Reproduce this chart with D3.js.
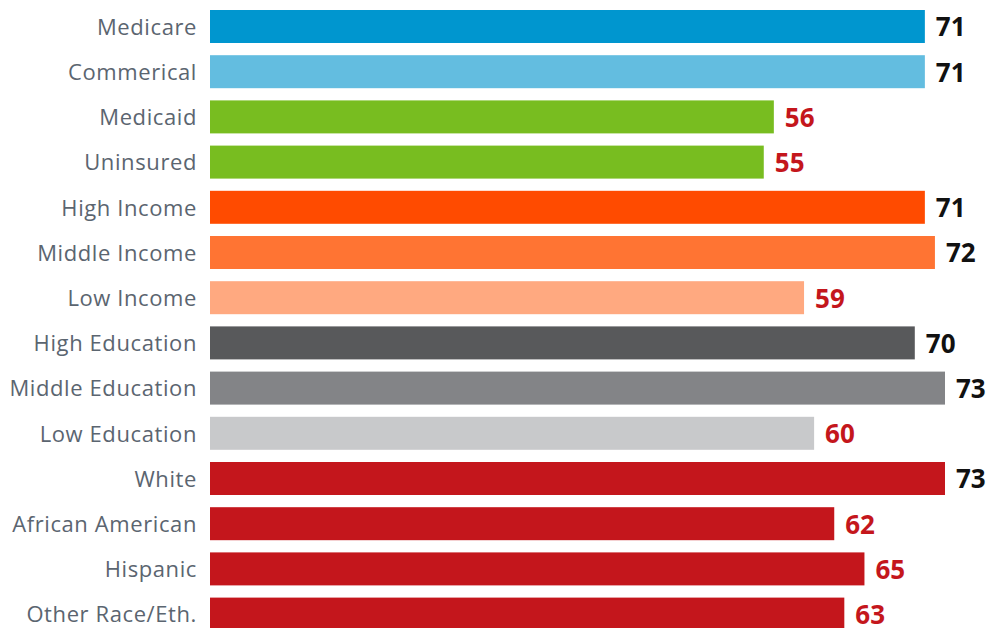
<!DOCTYPE html>
<html>
<head>
<meta charset="utf-8">
<script src="https://cdn.jsdelivr.net/npm/d3@7"></script>
<style>
	body { margin: 0; background: #fff; }
	svg { display: block; }
</style>
</head>
<body>
<div id="chart"></div>
<script>
var categories = ["Medicare", "Commerical", "Medicaid", "Uninsured", "High Income", "Middle Income", "Low Income",
	"High Education", "Middle Education", "Low Education", "White", "African American", "Hispanic", "Other Race/Eth."];
var values = [71, 71, 56, 55, 71, 72, 59, 70, 73, 60, 73, 62, 65, 63];
var barColors = ["#0096cf", "#63bde0", "#78bd20", "#78bd20", "#ff4b00", "#ff7433", "#ffa980",
	"#58595b", "#838487", "#c8c9cb", "#c4161c", "#c4161c", "#c4161c", "#c4161c"];

var width = 988, height = 628;

var svg = d3.select("#chart")
	.append("svg")
	.attr("width", width)
	.attr("height", height);

var x = d3.scaleLinear()
	.domain([0, 73])
	.range([210, 945]);

// step ~45.2, bars ~33 high, first bar top at 10
var y = d3.scaleBand()
	.domain(categories)
	.range([10, 10 + 45.2 * (14 - 0.27)])
	.paddingInner(0.27)
	.paddingOuter(0);

var rows = categories.map(function(c, i){ return {name: c, value: values[i], color: barColors[i]}; });

// bars
svg.selectAll("rect.bar")
	.data(rows)
	.enter()
	.append("rect")
	.attr("class", "bar")
	.attr("x", x(0))
	.attr("y", function(d){ return y(d.name); })
	.attr("width", function(d){ return x(d.value) - x(0); })
	.attr("height", y.bandwidth())
	.style("fill", function(d){ return d.color; });

// category labels
svg.selectAll("text.cat")
	.data(rows)
	.enter()
	.append("text")
	.attr("class", "cat")
	.attr("x", 197)
	.attr("y", function(d){ return y(d.name) + y.bandwidth() / 2; })
	.attr("dy", "0.38em")
	.attr("text-anchor", "end")
	.style("font-family", "'Open Sans', sans-serif")
	.style("font-size", "22px")
	.style("letter-spacing", "0.6px")
	.style("fill", "#5b6570")
	.text(function(d){ return d.name; });

// value labels, red when under 70
svg.selectAll("text.val")
	.data(rows)
	.enter()
	.append("text")
	.attr("class", "val")
	.attr("x", function(d){ return x(d.value) + 11; })
	.attr("y", function(d){ return y(d.name) + y.bandwidth() / 2; })
	.attr("dy", "0.38em")
	.style("font-family", "'Open Sans', sans-serif")
	.style("font-weight", "bold")
	.style("font-size", "26px")
	.style("fill", function(d){ return d.value >= 70 ? "#111" : "#c4161c"; })
	.text(function(d){ return d.value; });
</script>
</body>
</html>
